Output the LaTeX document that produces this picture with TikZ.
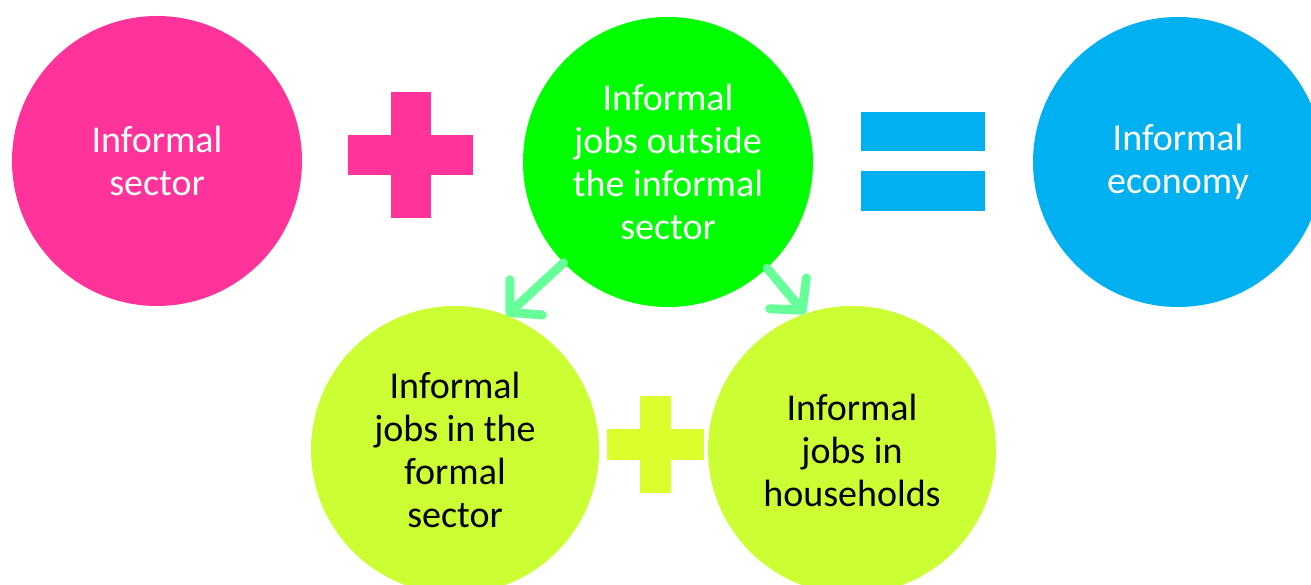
\documentclass[tikz,border=0pt]{standalone}
\usepackage{fontspec}
\setmainfont{Carlito}
\usetikzlibrary{arrows.meta}
\definecolor{hotpink}{HTML}{FF3399}
\definecolor{brightgreen}{HTML}{00FF00}
\definecolor{skyblue}{HTML}{00B0F0}
\definecolor{lime}{HTML}{CCFF33}
\definecolor{limeplus}{HTML}{DAFF2D}
\definecolor{mint}{HTML}{66FF99}
\tikzset{
  bubble/.style={circle, minimum size=290pt, inner sep=0pt, align=center,
    font=\fontsize{38}{43}\selectfont},
  branch/.style={mint, line width=9pt, line cap=round,
    -{Straight Barb[round, length=22pt, width=48pt]}}
}
\begin{document}
\begin{tikzpicture}[x=1pt, y=-1pt]
\useasboundingbox (0,0) rectangle (1311,585);
\clip (0,0) rectangle (1311,585);

% top row
\node [bubble, fill=hotpink, text=white] (sector) at (157,161) {Informal\\sector};
\node [bubble, fill=brightgreen, text=white] (outside) at (668,162) {Informal\\jobs outside\\the informal\\sector};
\node [bubble, fill=skyblue, text=white] (economy) at (1178,162) {Informal\\economy};

% bottom row
\node [bubble, fill=lime, minimum size=288pt] (formal) at (455,450) {Informal\\jobs in the\\formal\\sector};
\node [bubble, fill=lime, minimum size=288pt] (households) at (852,450) {Informal\\jobs in\\households};

% plus and equals signs
\fill [hotpink] (391,92) rectangle (431,218);
\fill [hotpink] (348,135) rectangle (473,175);
\fill [skyblue] (861,112) rectangle (985,151);
\fill [skyblue] (861,171) rectangle (985,211);
\fill [limeplus] (640,396) rectangle (671,493);
\fill [limeplus] (607,429) rectangle (704,460);

\draw [branch] (outside.224) -- (formal.69);
\draw [branch] (outside.313) -- (households.109);
\end{tikzpicture}
\end{document}
